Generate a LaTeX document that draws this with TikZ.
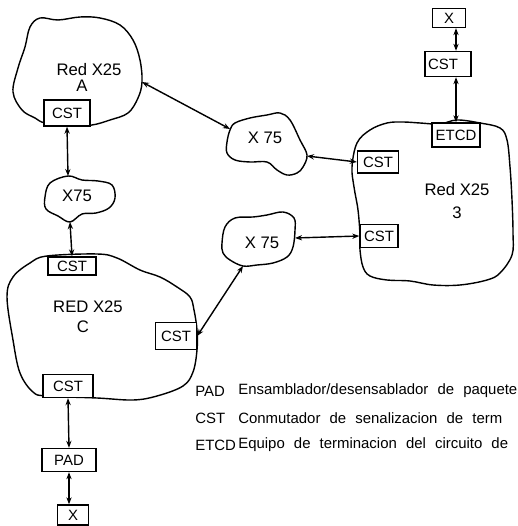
\documentclass[tikz,border=0pt]{standalone}
\usepackage{fontspec}
\setsansfont{Liberation Sans}
\newfontfamily\legendfont{Liberation Sans}[WordSpace=2.2]
\usetikzlibrary{arrows.meta}
\newcommand{\px}{0.02cm}
\tikzstyle{box}=[draw=black, fill=white, line width=0.8pt, inner sep=1pt, font=\sffamily\fontsize{8.5}{9}\selectfont]
\tikzstyle{net}=[draw=black, line width=0.8pt, fill=white]
\tikzstyle{link}=[line width=0.8pt, {Stealth[length=4pt,width=3pt]}-{Stealth[length=4pt,width=3pt]}]
\tikzstyle{lbl}=[font=\sffamily\fontsize{9.5}{11}\selectfont]
\tikzstyle{key}=[anchor=west, inner sep=0pt, font=\legendfont\fontsize{8.5}{10}\selectfont]

\begin{document}
\begin{tikzpicture}[x=\px, y=-\px]
    \useasboundingbox (0,0) rectangle (517,526);

    %red A
    \draw[net] plot[smooth cycle, tension=0.6] coordinates {(13,92) (22,110) (35,118) (45,123) (70,126) (92,125) (110,120) (128,113) (138,98) (142,82) (140,60) (133,40) (120,25) (100,18) (80,17) (58,20) (40,18) (30,27) (25,47) (18,68)};
    \coordinate (aE) at (142,82);
    \node[lbl] (redA) at (89,70) {Red X25};
    \node[lbl] (redAn) at (82,86) {A};

    %x75 left
    \draw[net] plot[smooth cycle, tension=0.6] coordinates {(45,197) (50,183) (68,176) (82,180) (98,181) (112,185) (115,198) (109,208) (96,213) (82,214) (70,222) (58,216) (46,209)};
    \coordinate (xlN) at (68,176);
    \coordinate (xlS) at (70,222);
    \node[lbl] (xl) at (77,196) {X75};

    %x75 up
    \draw[net] plot[smooth cycle, tension=0.6] coordinates {(227,142) (230,130) (235,123) (250,118) (267,115) (280,113) (290,120) (300,140) (307,155) (303,167) (297,173) (287,175) (277,170) (267,162) (250,162) (235,160) (227,153)};
    \coordinate (xuW) at (230,129);
    \coordinate (xuE) at (307,156);
    \node[lbl] (xu) at (265,138) {X 75};

    %x75 down
    \draw[net] plot[smooth cycle, tension=0.6] coordinates {(222,243) (225,227) (235,218) (253,217) (267,215) (283,212) (294,218) (295,230) (293,247) (287,257) (273,263) (257,265) (243,266) (230,260) (223,253)};
    \coordinate (xdE) at (295,238);
    \coordinate (xdS) at (243,266);
    \node[lbl] (xd) at (262,243) {X 75};

    %red C
    \draw[net] plot[smooth cycle, tension=0.6] coordinates {(47,256) (97,254) (117,258) (140,270) (160,277) (177,287) (190,297) (194,310) (197,330) (197,350) (193,372) (183,386) (157,396) (133,400) (97,398) (47,396) (33,392) (20,373) (13,340) (7,297) (13,277) (30,263)};
    \node[lbl] (redC) at (88,307) {RED X25};
    \node[lbl] (redCn) at (83,327) {C};

    %red B
    \draw[net] plot[smooth cycle, tension=0.6] coordinates {(357,143) (370,130) (387,123) (403,122) (420,123) (440,124) (457,120) (480,123) (500,128) (507,140) (510,167) (512,200) (513,233) (512,255) (500,273) (487,280) (460,285) (433,285) (410,281) (387,280) (370,276) (363,267) (360,250) (360,235) (358,210) (354,187) (352,167)};
    \node[lbl] (redB) at (457,190) {Red X25};
    \node[lbl] (redBn) at (457,213) {3};

    %boxes
    \node[box, minimum width=46*\px, minimum height=26*\px] (cstA) at (67,113) {CST};
    \node[box, minimum width=48*\px, minimum height=18*\px] (cstCt) at (72,266) {CST};
    \node[box, minimum width=41*\px, minimum height=27*\px] (cstCr) at (176,336) {CST};
    \node[box, minimum width=50*\px, minimum height=23*\px] (cstCb) at (68,386) {CST};
    \node[box, minimum width=54*\px, minimum height=23*\px] (pad) at (69,460) {PAD};
    \node[box, minimum width=31*\px, minimum height=20*\px] (xbot) at (73,515) {X};
    \node[box, minimum width=41*\px, minimum height=22*\px] (cstBu) at (378,162) {CST};
    \node[box, minimum width=38*\px, minimum height=23*\px] (cstBl) at (379,236) {CST};
    \node[box, minimum width=48*\px, minimum height=24*\px] (etcd) at (456,135) {ETCD};
    \node[box, minimum width=46*\px, minimum height=25*\px, text width=40*\px] (cstd) at (448,64) {CST};
    \node[box, minimum width=33*\px, minimum height=19*\px] (xtop) at (449,18) {X};

    %links
    \draw[link] (cstA.south) -- (xlN);
    \draw[link] (xlS) -- (cstCt.north);
    \draw[link] (aE) -- (xuW);
    \draw[link] (xuE) -- (cstBu.west);
    \draw[link] (cstBl.west) -- (xdE);
    \draw[link] (cstCr.east) -- (xdS);
    \draw[link] (etcd.north) -- (cstd.south -| etcd.north);
    \draw[link] (cstd.north -| etcd.north) -- (xtop.south -| etcd.north);
    \draw[link] (cstCb.south) -- (pad.north);
    \draw[link] (pad.south) -- (pad.south |- xbot.north);

    %legend
    \node[key] (kPad) at (195,391) {PAD};
    \node[key] (dPad) at (238,391) {Ensamblador/desensablador de paquete};
    \node[key] (kCst) at (195,418) {CST};
    \node[key] (dCst) at (238,418) {Conmutador de senalizacion de term};
    \node[key] (kEtcd) at (195,445) {ETCD};
    \node[key] (dEtcd) at (238,445) {Equipo de terminacion del circuito de};

\end{tikzpicture}
\end{document}
